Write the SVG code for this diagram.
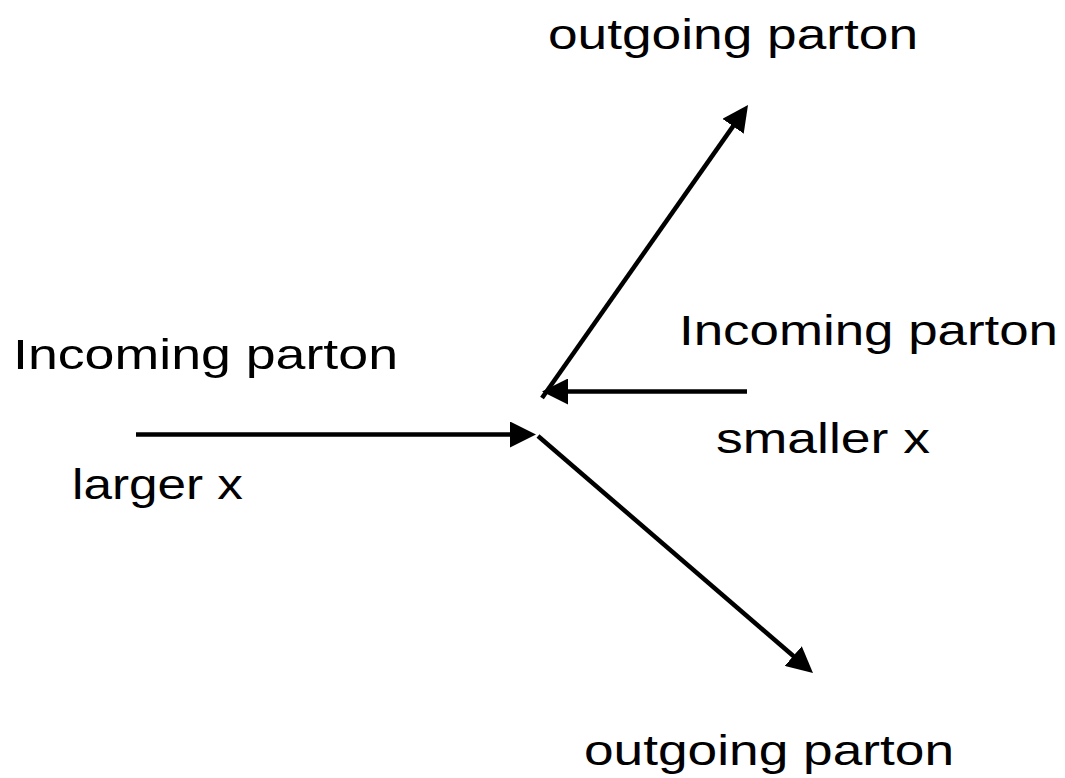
<svg xmlns="http://www.w3.org/2000/svg" width="1065" height="778" viewBox="0 0 1065 778">
  <style>
    .lbl { font-family: "Liberation Sans", Arial, Helvetica, sans-serif; font-size: 43px; fill: #000; }
    .edge { stroke: #000; stroke-width: 4.5; fill: none; stroke-linecap: butt; }
  </style>
  <defs>
    <marker id="head" markerUnits="userSpaceOnUse" viewBox="0 0 26 26" refX="2" refY="13" markerWidth="26" markerHeight="26" orient="auto">
      <path d="M0,0 L26,13 L0,26 z" fill="#000"/>
    </marker>
  </defs>
  <rect width="1065" height="778" fill="#fff"/>

  <!-- parton lines meeting at the interaction point -->
  <g id="connectors">
    <line class="edge" x1="136" y1="434.5" x2="512" y2="434.5" marker-end="url(#head)"/>
    <line class="edge" x1="747" y1="391.5" x2="566" y2="391.5" marker-end="url(#head)"/>
    <line class="edge" x1="542" y1="398" x2="734.2" y2="124.6" marker-end="url(#head)"/>
    <line class="edge" x1="538" y1="436" x2="794.8" y2="657.3" marker-end="url(#head)"/>
  </g>

  <g id="outgoing-top">
    <text class="lbl" x="548" y="49" textLength="370" lengthAdjust="spacingAndGlyphs">outgoing parton</text>
  </g>
  <g id="incoming-left">
    <text class="lbl" x="13" y="369" textLength="385" lengthAdjust="spacingAndGlyphs">Incoming parton</text>
    <text class="lbl" x="72" y="499" textLength="171" lengthAdjust="spacingAndGlyphs">larger x</text>
  </g>
  <g id="incoming-right">
    <text class="lbl" x="679" y="345" textLength="379" lengthAdjust="spacingAndGlyphs">Incoming parton</text>
    <text class="lbl" x="716" y="453" textLength="214" lengthAdjust="spacingAndGlyphs">smaller x</text>
  </g>
  <g id="outgoing-bottom">
    <text class="lbl" x="584" y="765" textLength="370" lengthAdjust="spacingAndGlyphs">outgoing parton</text>
  </g>
</svg>
